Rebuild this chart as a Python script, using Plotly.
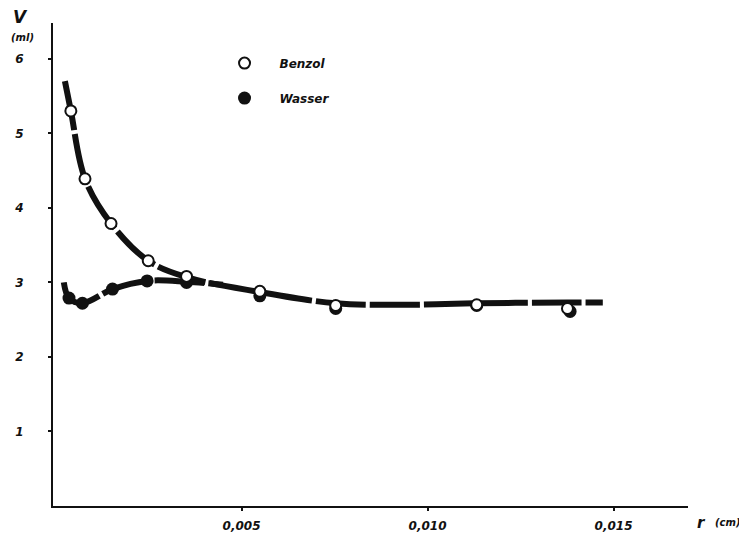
import plotly.graph_objects as go

# Data
benzol_r = [0.00041, 0.00079, 0.00149, 0.00249, 0.00352, 0.00549, 0.00753, 0.01132, 0.01376]
benzol_v = [5.30, 4.39, 3.79, 3.29, 3.08, 2.88, 2.69, 2.70, 2.65]

wasser_r = [0.00036, 0.00072, 0.00153, 0.00246, 0.00352, 0.00549, 0.00753, 0.01132, 0.01383]
wasser_v = [2.79, 2.72, 2.91, 3.02, 3.00, 2.82, 2.65, 2.69, 2.61]

# Fitted (hand-drawn) curves
benzol_curve_r = [0.00025, 0.00041, 0.00079, 0.00149, 0.00249, 0.00352, 0.00549, 0.00753, 0.0095, 0.01132, 0.01376, 0.01471]
benzol_curve_v = [5.70, 5.30, 4.39, 3.79, 3.29, 3.07, 2.87, 2.72, 2.70, 2.72, 2.73, 2.73]

wasser_curve_r = [0.00022, 0.00036, 0.00072, 0.00153, 0.00246, 0.00352, 0.0045]
wasser_curve_v = [3.00, 2.79, 2.72, 2.91, 3.02, 3.01, 2.97]

x_tickvals = [0.005, 0.010, 0.015]
x_ticktext = ["0,005", "0,010", "0,015"]
y_tickvals = [1, 2, 3, 4, 5, 6]
y_ticktext = ["1", "2", "3", "4", "5", "6"]

INK = "#111111"
FONT = dict(family="DejaVu Sans", size=12, color=INK, weight="bold", style="italic")

fig = go.Figure()

fig.add_trace(go.Scatter(
    x=benzol_curve_r, y=benzol_curve_v, mode="lines",
    line=dict(color=INK, width=6, shape="spline", smoothing=1.0, dash="50px,4px"),
    showlegend=False, hoverinfo="skip"))
fig.add_trace(go.Scatter(
    x=wasser_curve_r, y=wasser_curve_v, mode="lines",
    line=dict(color=INK, width=6, shape="spline", smoothing=1.0, dash="50px,4px"),
    showlegend=False, hoverinfo="skip"))

fig.add_trace(go.Scatter(
    x=wasser_r, y=wasser_v, mode="markers", name="Wasser",
    legendgroup="w", legendrank=2,
    marker=dict(symbol="circle", size=13, color=INK, line=dict(width=0))))
fig.add_trace(go.Scatter(
    x=benzol_r, y=benzol_v, mode="markers", name="Benzol",
    legendgroup="b", legendrank=1,
    marker=dict(symbol="circle", size=11, color="white", line=dict(color=INK, width=2))))

fig.update_layout(
    width=747, height=536,
    margin=dict(l=45, r=67, t=15, b=38),
    paper_bgcolor="white", plot_bgcolor="white",
    font=FONT,
    legend=dict(
        x=0.2465, y=0.947, xanchor="left", yanchor="top",
        bgcolor="rgba(0,0,0,0)", font=FONT,
        traceorder="grouped", tracegroupgap=16, itemwidth=60,
    ),
    xaxis=dict(
        range=[-0.00007, 0.0170], showgrid=False, zeroline=False,
        showline=True, linecolor=INK, linewidth=2, automargin=False,
        ticks="outside", ticklen=3, tickwidth=1.5, tickcolor=INK,
        tickvals=x_tickvals, ticktext=x_ticktext, ticklabelstandoff=5,
        tickfont=FONT,
    ),
    yaxis=dict(
        range=[0, 6.48], showgrid=False, zeroline=False,
        showline=True, linecolor=INK, linewidth=2, automargin=False,
        ticks="outside", ticklen=3, tickwidth=1.5, tickcolor=INK,
        tickvals=y_tickvals, ticktext=y_ticktext, ticklabelstandoff=22,
        tickfont=FONT,
    ),
    annotations=[
        dict(text="V", xref="paper", yref="paper", x=-0.0504, y=1.0124,
             xanchor="center", yanchor="middle", showarrow=False,
             font=dict(FONT, size=17)),
        dict(text="(ml)", xref="paper", yref="paper", x=-0.0488, y=0.970,
             xanchor="center", yanchor="middle", showarrow=False,
             font=dict(FONT, size=10)),
        dict(text="r", xref="paper", yref="paper", x=1.011, y=-0.035,
             xanchor="left", yanchor="middle", showarrow=False,
             font=dict(FONT, size=15)),
        dict(text="(cm)", xref="paper", yref="paper", x=1.039, y=-0.035,
             xanchor="left", yanchor="middle", showarrow=False,
             font=dict(FONT, size=10)),
    ],
)

fig.write_html("out.html")
